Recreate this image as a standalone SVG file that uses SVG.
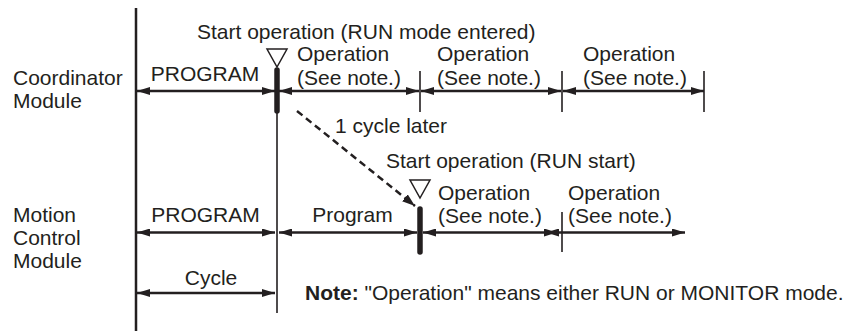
<svg xmlns="http://www.w3.org/2000/svg" width="854" height="331" viewBox="0 0 854 331">
<style>
.t{font-family:"Liberation Sans",Arial,sans-serif;font-size:21px;fill:#231f20}
.m{text-anchor:middle}
.dim{stroke:#231f20;stroke-width:2.6;fill:none;marker-start:url(#ah);marker-end:url(#ah)}
.axis{stroke:#231f20;stroke-width:2.5;fill:none}
.thin{stroke:#231f20;stroke-width:1.6;fill:none}
.bar{stroke:#231f20;stroke-width:5.5;stroke-linecap:round}
.tri{fill:#fff;stroke:#231f20;stroke-width:1.5;stroke-linejoin:miter}
.dash{stroke:#231f20;stroke-width:2.5;stroke-dasharray:7 4.5;fill:none;marker-end:url(#ahd)}
</style>
<defs>
<marker id="ah" markerUnits="userSpaceOnUse" viewBox="0 0 13 8" markerWidth="13" markerHeight="8" refX="13" refY="4" orient="auto-start-reverse">
<path d="M0,0 L13,4 L0,8 z" fill="#231f20"/>
</marker>
<marker id="ahd" markerUnits="userSpaceOnUse" viewBox="0 0 13 9" markerWidth="13" markerHeight="9" refX="13" refY="4.5" orient="auto">
<path d="M0,0 L13,4.5 L0,9 z" fill="#231f20"/>
</marker>
</defs>

<g id="axis">
<line class="axis" x1="136" y1="8" x2="136" y2="331"/>
<line class="thin" x1="277" y1="91" x2="277" y2="313"/>
</g>

<g id="coordinator">
<text class="t" x="13" y="85">Coordinator</text>
<text class="t" x="13" y="108">Module</text>
<text class="t" x="197" y="39">Start operation (RUN mode entered)</text>
<polygon class="tri" points="267,49 287,49 277,67"/>
<line class="bar" x1="277" y1="70" x2="277" y2="111"/>
<line class="thin" x1="420" y1="71" x2="420" y2="112"/>
<line class="thin" x1="562" y1="71" x2="562" y2="112"/>
<line class="thin" x1="704" y1="71" x2="704" y2="112"/>
<line class="dim" x1="137" y1="91" x2="275" y2="91"/>
<line class="dim" x1="279" y1="91" x2="419" y2="91"/>
<line class="dim" x1="421" y1="91" x2="561" y2="91"/>
<line class="dim" x1="563" y1="91" x2="704" y2="91"/>
<text class="t m" x="205" y="81">PROGRAM</text>
<text class="t" x="297" y="61">Operation</text>
<text class="t" x="297" y="85">(See note.)</text>
<text class="t" x="437" y="61">Operation</text>
<text class="t" x="437" y="85">(See note.)</text>
<text class="t" x="583" y="61">Operation</text>
<text class="t" x="583" y="85">(See note.)</text>
</g>

<g id="motion">
<text class="t" x="13" y="222">Motion</text>
<text class="t" x="13" y="245">Control</text>
<text class="t" x="13" y="268">Module</text>
<text class="t" x="386" y="168">Start operation (RUN start)</text>
<polygon class="tri" points="410,180 430,180 420,198"/>
<line class="bar" x1="420" y1="209" x2="420" y2="252"/>
<line class="thin" x1="562" y1="212" x2="562" y2="252"/>
<line class="dim" x1="137" y1="232.5" x2="275" y2="232.5"/>
<line class="dim" x1="279" y1="232.5" x2="417" y2="232.5"/>
<line class="dim" x1="423" y1="232.5" x2="557" y2="232.5"/>
<line class="dim" x1="546" y1="232.5" x2="685" y2="232.5"/>
<text class="t m" x="205.5" y="222">PROGRAM</text>
<text class="t m" x="352.5" y="222">Program</text>
<text class="t" x="438" y="200">Operation</text>
<text class="t" x="438" y="223">(See note.)</text>
<text class="t" x="568" y="200">Operation</text>
<text class="t" x="568" y="223">(See note.)</text>
</g>

<g id="cycle">
<line class="dim" x1="137" y1="293" x2="275" y2="293"/>
<text class="t m" x="211" y="285">Cycle</text>
</g>

<g id="connectors">
<line class="dash" x1="297" y1="111" x2="415" y2="206"/>
<text class="t" x="335" y="133">1 cycle later</text>
</g>

<g id="note">
<text class="t" x="305" y="300"><tspan font-weight="bold">Note:</tspan> "Operation" means either RUN or MONITOR mode.</text>
</g>
</svg>
